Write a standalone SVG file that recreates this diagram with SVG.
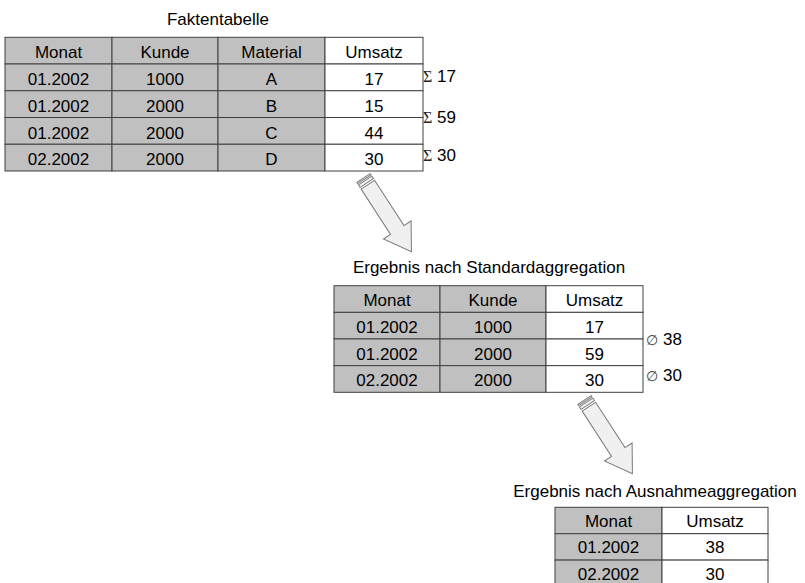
<svg xmlns="http://www.w3.org/2000/svg" width="805" height="583" viewBox="0 0 805 583">
  <style>
    .t { font-family: "Liberation Sans", Arial, sans-serif; font-size: 17px; fill: #000; text-anchor: middle; }
    .lbl { font-family: "Liberation Sans", Arial, sans-serif; font-size: 17px; fill: #000; }
    .sigma { font-family: "Liberation Serif", "DejaVu Serif", serif; font-size: 16px; fill: #222; }
    .avg { font-family: "DejaVu Sans", sans-serif; font-size: 14px; fill: #444; }
    .g { fill: #c0c0c0; stroke: #404040; stroke-width: 1; }
    .w { fill: #ffffff; stroke: #404040; stroke-width: 1; }
    .arr { fill: #f0f0f0; stroke: #7a7a7a; stroke-width: 1; stroke-linejoin: miter; }
  </style>
  <defs>
    <!-- striped block arrow, pointing along +x, origin at the tail centre -->
    <g id="stripedArrow">
      <rect class="arr" x="0" y="-8" width="1.5" height="16"/>
      <rect class="arr" x="3" y="-8" width="3" height="16"/>
      <polygon class="arr" points="8,-8 62,-8 62,-16.5 88,0 62,16.5 62,8 8,8"/>
    </g>
  </defs>
  <rect width="805" height="583" fill="#ffffff"/>

  <!-- Faktentabelle -->
  <g id="faktentabelle">
    <text class="t" x="218" y="25">Faktentabelle</text>
    <rect class="g" x="5" y="37.3" width="107" height="26.7"/>
    <rect class="g" x="112" y="37.3" width="106" height="26.7"/>
    <rect class="g" x="218" y="37.3" width="107" height="26.7"/>
    <rect class="w" x="325" y="37.3" width="98" height="26.7"/>
    <rect class="g" x="5" y="64" width="107" height="26.75"/>
    <rect class="g" x="112" y="64" width="106" height="26.75"/>
    <rect class="g" x="218" y="64" width="107" height="26.75"/>
    <rect class="w" x="325" y="64" width="98" height="26.75"/>
    <rect class="g" x="5" y="90.75" width="107" height="26.75"/>
    <rect class="g" x="112" y="90.75" width="106" height="26.75"/>
    <rect class="g" x="218" y="90.75" width="107" height="26.75"/>
    <rect class="w" x="325" y="90.75" width="98" height="26.75"/>
    <rect class="g" x="5" y="117.5" width="107" height="26.75"/>
    <rect class="g" x="112" y="117.5" width="106" height="26.75"/>
    <rect class="g" x="218" y="117.5" width="107" height="26.75"/>
    <rect class="w" x="325" y="117.5" width="98" height="26.75"/>
    <rect class="g" x="5" y="144.25" width="107" height="26.75"/>
    <rect class="g" x="112" y="144.25" width="106" height="26.75"/>
    <rect class="g" x="218" y="144.25" width="107" height="26.75"/>
    <rect class="w" x="325" y="144.25" width="98" height="26.75"/>
    <text class="t" x="58.5" y="58">Monat</text>
    <text class="t" x="165" y="58">Kunde</text>
    <text class="t" x="271.5" y="58">Material</text>
    <text class="t" x="374" y="58">Umsatz</text>
    <text class="t" x="58.5" y="85">01.2002</text>
    <text class="t" x="165" y="85">1000</text>
    <text class="t" x="271.5" y="85">A</text>
    <text class="t" x="374" y="85">17</text>
    <text class="t" x="58.5" y="111.5">01.2002</text>
    <text class="t" x="165" y="111.5">2000</text>
    <text class="t" x="271.5" y="111.5">B</text>
    <text class="t" x="374" y="111.5">15</text>
    <text class="t" x="58.5" y="138.5">01.2002</text>
    <text class="t" x="165" y="138.5">2000</text>
    <text class="t" x="271.5" y="138.5">C</text>
    <text class="t" x="374" y="138.5">44</text>
    <text class="t" x="58.5" y="165">02.2002</text>
    <text class="t" x="165" y="165">2000</text>
    <text class="t" x="271.5" y="165">D</text>
    <text class="t" x="374" y="165">30</text>
  </g>

  <!-- sums per month and customer -->
  <g id="summen">
    <text class="lbl" x="423" y="82"><tspan class="sigma">Σ</tspan> 17</text>
    <text class="lbl" x="423" y="123"><tspan class="sigma">Σ</tspan> 59</text>
    <text class="lbl" x="423" y="161"><tspan class="sigma">Σ</tspan> 30</text>
  </g>

  <!-- Ergebnis nach Standardaggregation -->
  <g id="standardaggregation">
    <text class="t" x="489" y="273">Ergebnis nach Standardaggregation</text>
    <rect class="g" x="334" y="285.7" width="106" height="26.65"/>
    <rect class="g" x="440" y="285.7" width="106" height="26.65"/>
    <rect class="w" x="546" y="285.7" width="97" height="26.65"/>
    <rect class="g" x="334" y="312.35" width="106" height="26.65"/>
    <rect class="g" x="440" y="312.35" width="106" height="26.65"/>
    <rect class="w" x="546" y="312.35" width="97" height="26.65"/>
    <rect class="g" x="334" y="339" width="106" height="26.65"/>
    <rect class="g" x="440" y="339" width="106" height="26.65"/>
    <rect class="w" x="546" y="339" width="97" height="26.65"/>
    <rect class="g" x="334" y="365.65" width="106" height="26.65"/>
    <rect class="g" x="440" y="365.65" width="106" height="26.65"/>
    <rect class="w" x="546" y="365.65" width="97" height="26.65"/>
    <text class="t" x="387" y="306">Monat</text>
    <text class="t" x="493" y="306">Kunde</text>
    <text class="t" x="594.5" y="306">Umsatz</text>
    <text class="t" x="387" y="333">01.2002</text>
    <text class="t" x="493" y="333">1000</text>
    <text class="t" x="594.5" y="333">17</text>
    <text class="t" x="387" y="359.5">01.2002</text>
    <text class="t" x="493" y="359.5">2000</text>
    <text class="t" x="594.5" y="359.5">59</text>
    <text class="t" x="387" y="386">02.2002</text>
    <text class="t" x="493" y="386">2000</text>
    <text class="t" x="594.5" y="386">30</text>
  </g>

  <!-- averages per month -->
  <g id="mittelwerte">
    <text class="lbl" x="646" y="344.5"><tspan class="avg">∅</tspan> 38</text>
    <text class="lbl" x="646" y="380.5"><tspan class="avg">∅</tspan> 30</text>
  </g>

  <!-- Ergebnis nach Ausnahmeaggregation -->
  <g id="ausnahmeaggregation">
    <text class="t" x="655" y="497">Ergebnis nach Ausnahmeaggregation</text>
    <rect class="g" x="555" y="507.3" width="107" height="26.4"/>
    <rect class="w" x="662" y="507.3" width="106" height="26.4"/>
    <rect class="g" x="555" y="533.7" width="107" height="26.4"/>
    <rect class="w" x="662" y="533.7" width="106" height="26.4"/>
    <rect class="g" x="555" y="560.1" width="107" height="26.4"/>
    <rect class="w" x="662" y="560.1" width="106" height="26.4"/>
    <text class="t" x="608.5" y="527">Monat</text>
    <text class="t" x="715" y="527">Umsatz</text>
    <text class="t" x="608.5" y="553">01.2002</text>
    <text class="t" x="715" y="553">38</text>
    <text class="t" x="608.5" y="579.5">02.2002</text>
    <text class="t" x="715" y="579.5">30</text>
  </g>

  <!-- connectors: striped block arrows between the tables -->
  <g id="connectors">
    <use href="#stripedArrow" transform="translate(363.5,178) rotate(57)"/>
    <use href="#stripedArrow" transform="translate(584.5,400) rotate(57)"/>
  </g>
</svg>
